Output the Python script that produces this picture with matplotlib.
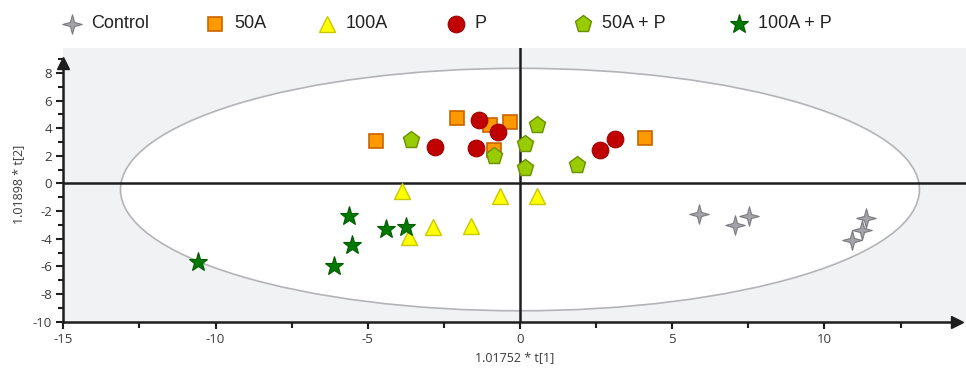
import numpy as np
import matplotlib
matplotlib.use('Agg')
import matplotlib.pyplot as plt
from matplotlib.patches import Ellipse
from matplotlib.path import Path
from matplotlib.lines import Line2D
from matplotlib.ticker import MultipleLocator

plt.rcParams['axes.unicode_minus'] = False

# score values
control_x = [5.89, 7.06, 7.53, 11.35, 11.22, 10.90]
control_y = [-2.24, -3.02, -2.34, -2.53, -3.38, -4.11]

a50_x = [-2.06, -0.98, -0.32, -4.72, -0.84, 4.12]
a50_y = [4.74, 4.23, 4.42, 3.07, 2.44, 3.29]

a100_x = [-3.87, -0.65, 0.56, -2.87, -1.61, -3.65]
a100_y = [-0.55, -0.88, -0.88, -3.16, -3.09, -3.89]

p_x = [-1.36, -0.73, -2.78, -1.44, 2.62, 3.13]
p_y = [4.57, 3.72, 2.63, 2.56, 2.44, 3.21]

a50p_x = [-3.57, 0.57, 0.17, -0.86, 0.17, 1.87]
a50p_y = [3.14, 4.23, 2.89, 2.00, 1.13, 1.32]

a100p_x = [-5.61, -4.39, -3.74, -5.53, -6.10, -10.57]
a100p_y = [-2.36, -3.33, -3.14, -4.47, -5.98, -5.71]

labels = ['Control', '50A', '100A', 'P', '50A + P', '100A + P']

# hotelling ellipse
ell_cx, ell_cy = 0.0, -0.44
ell_a, ell_b = 13.12, 8.77

# four point star marker
ang = np.deg2rad(np.arange(0, 360, 45) + 90)
rad = np.array([1, 0.3] * 4)
verts = list(zip(rad * np.cos(ang), rad * np.sin(ang)))
verts.append(verts[0])
star4 = Path(verts, [Path.MOVETO] + [Path.LINETO] * 7 + [Path.CLOSEPOLY])

styles = [
    dict(marker=star4, ms=14, mfc='#a3a3a8', mec='#7c7c80', mew=0.8),
    dict(marker='s', ms=10, mfc='#ff9900', mec='#c86400', mew=1.2),
    dict(marker='^', ms=11, mfc='#ffff00', mec='#c8c800', mew=1.0),
    dict(marker='o', ms=12, mfc='#c00000', mec='#a00000', mew=0.8),
    dict(marker='p', ms=12.5, mfc='#99cc00', mec='#6a8f00', mew=1.0),
    dict(marker='*', ms=14, mfc='#007a00', mec='#005a00', mew=0.8),
]

series = [(control_x, control_y), (a50_x, a50_y), (a100_x, a100_y),
          (p_x, p_y), (a50p_x, a50p_y), (a100p_x, a100p_y)]

fig = plt.figure(figsize=(9.66, 3.71), dpi=100)
ax = fig.add_axes([0.0655, 0.1329, 0.9345, 0.7377])
ax.set_facecolor('#f1f2f4')
ax.set_xlim(-15, 14.65)
ax.set_ylim(-10, 9.8)

ax.add_patch(Ellipse((ell_cx, ell_cy), 2 * ell_a, 2 * ell_b, facecolor='white',
                     edgecolor='#b4b4b8', lw=1.2, zorder=1))
ax.axhline(0, color='#1e1e1e', lw=1.8, zorder=2)
ax.axvline(0, color='#1e1e1e', lw=1.8, zorder=2)

for (x, y), st in zip(series, styles):
    ax.plot(x, y, ls='none', zorder=3, **st)

for s in ['top', 'right']:
    ax.spines[s].set_visible(False)
for s in ['left', 'bottom']:
    ax.spines[s].set_linewidth(1.8)
    ax.spines[s].set_color('#1e1e1e')
ax.spines['left'].set_bounds(-10, 8.7)
ax.spines['bottom'].set_bounds(-15, 14.3)
ax.plot([-15], [8.75], marker='^', ms=8, color='#1e1e1e', clip_on=False, zorder=5)
ax.plot([14.35], [-10], marker='>', ms=8, color='#1e1e1e', clip_on=False, zorder=5)

ax.xaxis.set_major_locator(MultipleLocator(5))
ax.xaxis.set_minor_locator(MultipleLocator(2.5))
ax.yaxis.set_major_locator(MultipleLocator(2))
ax.yaxis.set_minor_locator(MultipleLocator(1))
ax.set_yticks([-10, -8, -6, -4, -2, 0, 2, 4, 6, 8])
ax.set_xticks([-15, -10, -5, 0, 5, 10])
ax.tick_params(axis='both', which='major', length=5, width=1.5, color='#1e1e1e',
               labelsize=9.5, labelcolor='#3a3a3a', pad=3)
ax.tick_params(axis='both', which='minor', length=3.5, width=1.5, color='#1e1e1e')
ax.tick_params(axis='x', which='minor', length=4)
for t in ax.get_xticklabels() + ax.get_yticklabels():
    t.set_family('Open Sans')

ax.set_xlabel('1.01752 * t[1]', family='Open Sans', fontsize=9, color='#3a3a3a', labelpad=4)
ax.set_ylabel('1.01898 * t[2]', family='Open Sans', fontsize=9, color='#3a3a3a', labelpad=6)

# legend row on top
leg_x = [72, 215, 327, 456, 583, 739]
for px, lab, st in zip(leg_x, labels, styles):
    fx = px / 966
    fy = 1 - 24 / 371
    fig.add_artist(Line2D([fx], [fy], transform=fig.transFigure, ls='none', **st))
    fig.text(fx + 19 / 966, fy, lab, family='Liberation Sans', fontsize=13,
             color='#222222', va='center', ha='left')

fig.savefig('out.png', dpi=100)
